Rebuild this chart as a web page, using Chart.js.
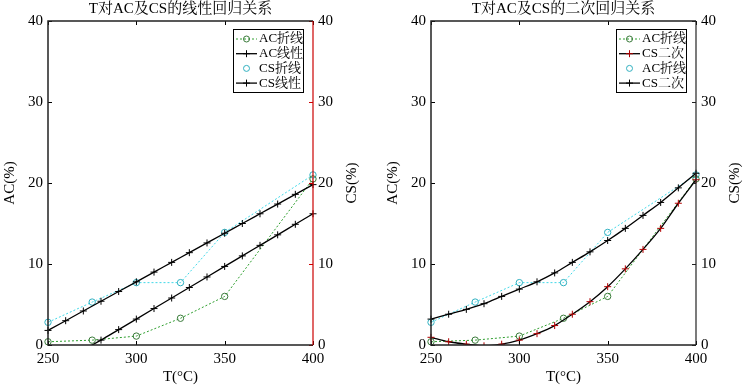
<!DOCTYPE html>
<html lang="zh">
<head>
<meta charset="utf-8">
<title>T对AC及CS的回归关系</title>
<script src="https://cdn.jsdelivr.net/npm/chart.js@4.4.0/dist/chart.umd.min.js"></script>
<style>
  body { margin: 0; background: #fff; }
  .box { position: absolute; top: 0; height: 387px; }
</style>
</head>
<body>
<div class="box" style="left:0;width:372px"><canvas id="leftChart"></canvas></div>
<div class="box" style="left:383px;width:361px"><canvas id="rightChart"></canvas></div>
<script>
// measured points
const obsT = [250, 275, 300, 325, 350, 400];
const acObs = [0.4, 0.6, 1.1, 3.3, 6.0, 20.5];
const csObs = [2.8, 5.3, 7.7, 7.7, 13.9, 21.0];

// fitted curves, every 10 degrees
const fitT = [250, 260, 270, 280, 290, 300, 310, 320, 330, 340, 350, 360, 370, 380, 390, 400];
const acLinear = [-3.2, -1.9, -0.6, 0.6, 1.9, 3.2, 4.5, 5.8, 7.1, 8.4, 9.7, 11.0, 12.3, 13.6, 14.9, 16.2];
const csLinear = [1.8, 3.0, 4.2, 5.4, 6.6, 7.8, 9.0, 10.2, 11.4, 12.6, 13.8, 15.0, 16.2, 17.4, 18.6, 19.8];
const acQuad = [0.95, 0.4, 0.1, -0.1, 0.1, 0.6, 1.4, 2.4, 3.8, 5.35, 7.2, 9.4, 11.8, 14.4, 17.5, 20.4];
const csQuad = [3.2, 3.8, 4.4, 5.1, 6.0, 6.9, 7.8, 8.9, 10.2, 11.5, 12.9, 14.4, 16.0, 17.6, 19.4, 21.2];

const xTicks = [250, 300, 350, 400];
const yTicks = [0, 10, 20, 30, 40];

const FONT = '"Liberation Serif", "Noto Serif CJK SC", "Noto Sans CJK SC", serif';

function pts(xs, ys) {
    return xs.map((x, i) => ({ x: x, y: ys[i] }));
}

function obsSet(label, ys, color, edge, legendLine) {
    return {
        label: label,
        data: pts(obsT, ys),
        borderColor: color,
        borderWidth: 1,
        borderDash: [2, 2],
        pointStyle: 'circle',
        pointRadius: 3.2,
        pointBorderColor: edge,
        pointBorderWidth: 1,
        pointBackgroundColor: 'rgba(0,0,0,0)',
        tension: 0,
        order: 1,
        clip: 6,
        legendLine: legendLine
    };
}

function fitSet(label, ys, markColor) {
    return {
        label: label,
        data: pts(fitT, ys),
        borderColor: '#000',
        borderWidth: 1.3,
        pointStyle: 'cross',
        pointRadius: 3.5,
        pointBorderColor: markColor,
        pointBorderWidth: 1,
        tension: 0.3,
        cubicInterpolationMode: 'monotone',
        order: 0,
        clip: { left: 5, right: 5, top: 0, bottom: 0 },
        legendLine: true
    };
}

// box, inward ticks and the right axis title (reads bottom to top)
const framePlugin = {
    id: 'frame',
    afterDatasetsDraw(chart, args, opts) {
        const { ctx, chartArea: a, scales } = chart;
        ctx.save();
        ctx.lineWidth = 1;
        ctx.strokeStyle = '#000';
        ctx.beginPath();
        xTicks.forEach(v => {
            const x = Math.round(scales.x.getPixelForValue(v)) + 0.5;
            ctx.moveTo(x, a.bottom); ctx.lineTo(x, a.bottom - 4);
            ctx.moveTo(x, a.top); ctx.lineTo(x, a.top + 4);
        });
        yTicks.forEach(v => {
            const y = Math.round(scales.y.getPixelForValue(v)) + 0.5;
            ctx.moveTo(a.left, y); ctx.lineTo(a.left + 4, y);
        });
        ctx.stroke();
        ctx.strokeStyle = opts.rightColor;
        ctx.beginPath();
        yTicks.forEach(v => {
            const y = Math.round(scales.y2.getPixelForValue(v)) + 0.5;
            ctx.moveTo(a.right, y); ctx.lineTo(a.right - 4, y);
        });
        ctx.stroke();
        ctx.lineWidth = 1.5;
        ctx.strokeStyle = '#222';
        ctx.beginPath();
        ctx.moveTo(a.right, a.top);
        ctx.lineTo(a.left, a.top);
        ctx.lineTo(a.left, a.bottom);
        ctx.lineTo(a.right, a.bottom);
        ctx.stroke();
        ctx.strokeStyle = opts.rightColor;
        ctx.lineWidth = 1.2;
        ctx.beginPath();
        ctx.moveTo(a.right, a.top);
        ctx.lineTo(a.right, a.bottom);
        ctx.stroke();

        ctx.translate(a.right + 39.5, (a.top + a.bottom) / 2);
        ctx.rotate(-Math.PI / 2);
        ctx.fillStyle = '#000';
        ctx.font = '15px ' + FONT;
        ctx.textAlign = 'center';
        ctx.textBaseline = 'middle';
        ctx.fillText(opts.rightTitle, 0, 0);
        ctx.restore();
    }
};

// legend drawn inside the plot, top right
const boxLegend = {
    id: 'boxLegend',
    afterDraw(chart) {
        const { ctx, chartArea: a } = chart;
        const w = 70, h = 63;
        const bx = a.right - 10 - w, by = a.top + 8;
        ctx.save();
        ctx.fillStyle = '#fff';
        ctx.fillRect(bx, by, w, h);
        ctx.strokeStyle = '#000';
        ctx.lineWidth = 1;
        ctx.strokeRect(Math.round(bx) + 0.5, Math.round(by) + 0.5, w, h);
        ctx.font = '13px ' + FONT;
        ctx.textBaseline = 'middle';
        chart.data.datasets.forEach((ds, i) => {
            const y = by + 10 + i * 14.7;
            const x0 = bx + 3, x1 = bx + 24, xm = (x0 + x1) / 2;
            if (ds.legendLine) {
                ctx.strokeStyle = ds.borderColor;
                ctx.lineWidth = ds.borderWidth;
                ctx.setLineDash(ds.borderDash || []);
                ctx.beginPath();
                ctx.moveTo(x0, y); ctx.lineTo(x1, y);
                ctx.stroke();
                ctx.setLineDash([]);
            }
            ctx.strokeStyle = ds.pointBorderColor;
            ctx.lineWidth = 1;
            ctx.beginPath();
            if (ds.pointStyle === 'circle') {
                ctx.arc(xm, y, 3, 0, Math.PI * 2);
            } else {
                ctx.moveTo(xm - 3.5, y); ctx.lineTo(xm + 3.5, y);
                ctx.moveTo(xm, y - 3.5); ctx.lineTo(xm, y + 3.5);
            }
            ctx.stroke();
            ctx.fillStyle = '#000';
            ctx.fillText(ds.label, bx + 26, y);
        });
        ctx.restore();
    }
};

function makeChart(id, title, datasets, rightWidth, rightColor) {
    const tickFont = { family: FONT, size: 15 };
    new Chart(document.getElementById(id), {
        type: 'line',
        data: { datasets: datasets },
        options: {
            responsive: true,
            maintainAspectRatio: false,
            animation: false,
            layout: { padding: 0 },
            plugins: {
                legend: { display: false },
                tooltip: { enabled: false },
                title: {
                    display: true,
                    text: title,
                    fullSize: false,
                    color: '#000',
                    font: { family: FONT, size: 15, weight: 'normal' },
                    padding: { top: 0, bottom: 3 }
                },
                frame: { rightColor: rightColor, rightTitle: 'CS(%)' }
            },
            scales: {
                x: {
                    type: 'linear',
                    min: 250, max: 400,
                    afterBuildTicks: s => { s.ticks = xTicks.map(v => ({ value: v })); },
                    afterFit: s => { s.height = 42; },
                    grid: { display: false, drawTicks: false },
                    border: { display: false },
                    ticks: { color: '#000', font: tickFont, padding: 5, maxRotation: 0 },
                    title: { display: true, text: 'T(°C)', color: '#000', font: tickFont, padding: { top: 0, bottom: 1 } }
                },
                y: {
                    position: 'left',
                    min: 0, max: 40,
                    afterBuildTicks: s => { s.ticks = yTicks.map(v => ({ value: v })); },
                    afterFit: s => { s.width = 48; },
                    grid: { display: false, drawTicks: false },
                    border: { display: false },
                    ticks: { color: '#000', font: tickFont, padding: 5 },
                    title: { display: true, text: 'AC(%)', color: '#000', font: tickFont, padding: { top: 1, bottom: 0 } }
                },
                y2: {
                    position: 'right',
                    min: 0, max: 40,
                    afterBuildTicks: s => { s.ticks = yTicks.map(v => ({ value: v })); },
                    afterFit: s => { s.width = rightWidth; },
                    grid: { display: false, drawTicks: false },
                    border: { display: false },
                    ticks: { color: '#000', font: tickFont, padding: 5 }
                }
            }
        },
        plugins: [framePlugin, boxLegend]
    });
}

makeChart('leftChart', 'T对AC及CS的线性回归关系', [
    obsSet('AC折线', acObs, '#2e9e2e', '#3a7a3a', true),
    fitSet('AC线性', acLinear, '#000'),
    obsSet('CS折线', csObs, '#40d8e8', '#30b0c0', false),
    fitSet('CS线性', csLinear, '#000')
], 59, '#cc0000');

makeChart('rightChart', 'T对AC及CS的二次回归关系', [
    obsSet('AC折线', acObs, '#2e9e2e', '#3a7a3a', true),
    fitSet('CS二次', acQuad, '#b00000'),
    obsSet('AC折线', csObs, '#40d8e8', '#30b0c0', false),
    fitSet('CS二次', csQuad, '#000')
], 48, '#222');
</script>
</body>
</html>
